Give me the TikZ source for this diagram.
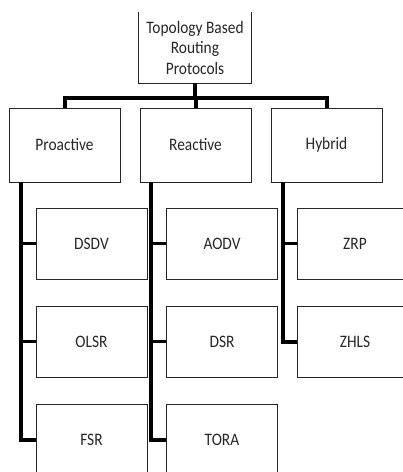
\documentclass[tikz,border=0pt]{standalone}
\usepackage{fontspec}
\setmainfont[FakeStretch=0.88]{Carlito}
\usetikzlibrary{calc}
\begin{document}
\begin{tikzpicture}[x=1pt,y=-1pt,
  box/.style={draw=black!85,line width=0.9pt,minimum width=111pt,minimum height=71pt,inner sep=0pt,font=\fontsize{17.5}{20.5}\selectfont,text=black!85},
  l1box/.style={box,minimum height=74pt},
  bus/.style={line width=4pt,black},
  link/.style={line width=3.5pt,black}]
\useasboundingbox (0,0) rectangle (403,472);
\begin{scope}
\clip (0,0) rectangle (403,472);
% top node
\node[box,draw=none,minimum width=112pt,align=center] (top) at (195,47.5) {Topology Based\\Routing\\Protocols};
\draw[black!85,line width=0.9pt] (top.north west) -- (top.south west) -- (top.south east) -- (top.north east);
% level 1
\node[l1box] (pro) at (64.5,145) {Proactive};
\node[l1box] (rea) at (195.5,145) {Reactive};
\node[l1box] (hyb) at (326.5,145) {Hybrid};
% children
\node[box] (dsdv) at (91.5,243.5) {DSDV};
\node[box] (olsr) at (91.5,341.5) {OLSR};
\node[box] (fsr) at (91.5,439.5) {FSR};
\node[box] (aodv) at (222,243.5) {AODV};
\node[box] (dsr) at (222,341.5) {DSR};
\node[box] (tora) at (222,439.5) {TORA};
\node[box,minimum width=116pt] (zrp) at (355,243.5) {ZRP};
\node[box,minimum width=116pt] (zhls) at (355,341.5) {ZHLS};
\foreach \n in {pro,rea,hyb,dsdv,olsr,aodv,dsr,zrp,zhls}
  \draw[line width=1.8pt,black!85] (\n.south west) -- (\n.south east);
% top bus
\coordinate (busy) at (195,98);
\draw[bus] (top.south) -- (busy);
\draw[bus] (pro.north) |- (busy) -| (hyb.north);
\draw[bus] (rea.north) -- (rea.north |- busy);
% trunks
\coordinate (pt) at ($(pro.south west)+(12,0)$);
\coordinate (rt) at ($(rea.south west)+(11,0)$);
\coordinate (ht) at ($(hyb.south west)+(12,0)$);
\draw[bus] (pt) |- (fsr.west);
\draw[link] (dsdv.west) -- (dsdv.west -| pt);
\draw[link] (olsr.west) -- (olsr.west -| pt);
\draw[bus] (rt) |- (tora.west);
\draw[link] (aodv.west) -- (aodv.west -| rt);
\draw[link] (dsr.west) -- (dsr.west -| rt);
\draw[bus] (ht) |- (zhls.west);
\draw[link] (zrp.west) -- (zrp.west -| ht);
\end{scope}
\end{tikzpicture}
\end{document}
